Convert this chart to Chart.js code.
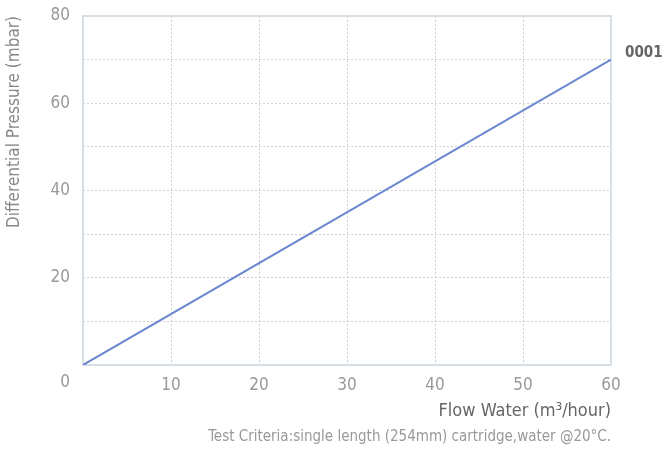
<!DOCTYPE html>
<html>
<head>
<meta charset="utf-8">
<script src="https://cdn.jsdelivr.net/npm/chart.js@4/dist/chart.umd.min.js"></script>
<style>
  html, body { margin: 0; padding: 0; background: #fff; }
  #wrap { width: 667px; height: 457px; position: relative; }
</style>
</head>
<body>
<div id="wrap"><canvas id="c"></canvas></div>
<script>
// pressure drop curve, model 0001
var flowWater = [0, 60];
var pressure = [0, 70];
var seriesName = '0001';
var xTitle = 'Flow Water (m\u00b3/hour)';
var yTitle = 'Differential Pressure (mbar)';
var caption = 'Test Criteria:single length (254mm) cartridge,water @20\u00b0C.';

var font = '"DejaVu Sans Condensed", "Liberation Sans", sans-serif';

var extras = {
    id: 'extras',
    beforeDatasetsDraw: function(chart) {
        var a = chart.chartArea;
        var ctx = chart.ctx;
        ctx.save();
        ctx.strokeStyle = '#d6dee6';
        ctx.lineWidth = 2;
        ctx.strokeRect(a.left, a.top, a.right - a.left, a.bottom - a.top);
        ctx.restore();
    },
    afterDraw: function(chart) {
        var ctx = chart.ctx;
        var a = chart.chartArea;
        var xs = chart.scales.x, ys = chart.scales.y;
        ctx.save();
        // origin label
        ctx.font = '17px ' + font;
        ctx.fillStyle = '#999';
        ctx.textAlign = 'right';
        ctx.textBaseline = 'middle';
        ctx.fillText('0', a.left - 13, a.bottom + 18);
        // series label
        var last = flowWater.length - 1;
        ctx.font = 'bold 15px ' + font;
        ctx.fillStyle = '#666';
        ctx.textAlign = 'left';
        ctx.fillText(seriesName, xs.getPixelForValue(flowWater[last]) + 14, ys.getPixelForValue(pressure[last]) - 7);
        // caption
        ctx.font = '15px ' + font;
        ctx.fillStyle = '#999';
        ctx.textAlign = 'right';
        ctx.fillText(caption, a.right, 437);
        ctx.restore();
    }
};

new Chart(document.getElementById('c'), {
    type: 'line',
    data: {
        labels: flowWater,
        datasets: [{
            label: seriesName,
            data: flowWater.map(function(x, i) { return { x: x, y: pressure[i] }; }),
            borderColor: '#6a87d0',
            borderWidth: 2,
            pointRadius: 0,
            fill: false,
            tension: 0
        }]
    },
    options: {
        responsive: true,
        maintainAspectRatio: false,
        animation: false,
        layout: { padding: { top: 16, right: 56, left: 4, bottom: 35 } },
        plugins: {
            legend: { display: false },
            tooltip: { enabled: false }
        },
        scales: {
            x: {
                type: 'linear',
                min: 0, max: 60,
                grid: { color: '#d0d0d0', drawTicks: false },
                border: { display: false, dash: [2, 2] },
                ticks: {
                    stepSize: 10,
                    padding: 10,
                    color: '#999',
                    font: { family: font, size: 17 },
                    callback: function(v) { return v === 0 ? '' : v; }
                },
                title: {
                    display: true,
                    text: xTitle,
                    align: 'end',
                    color: '#666',
                    font: { family: font, size: 18 },
                    padding: { top: 2, bottom: 0 }
                },
                afterFit: function(s) { s.height = 457 - 365 - 35; }
            },
            y: {
                min: 0, max: 80,
                grid: { color: '#d0d0d0', drawTicks: true, tickLength: 13, tickColor: 'rgba(0,0,0,0)' },
                border: { display: false, dash: [2, 2] },
                ticks: {
                    stepSize: 10,
                    padding: 0,
                    color: '#999',
                    font: { family: font, size: 17 },
                    callback: function(v) { return (v === 0 || v % 20 !== 0) ? '' : v; }
                },
                title: {
                    display: true,
                    text: yTitle,
                    align: 'end',
                    color: '#888',
                    font: { family: font, size: 17 },
                    padding: { top: 0, bottom: 16 }
                },
                afterFit: function(s) { s.width = 83 - 4; }
            }
        }
    },
    plugins: [extras]
});
</script>
</body>
</html>
